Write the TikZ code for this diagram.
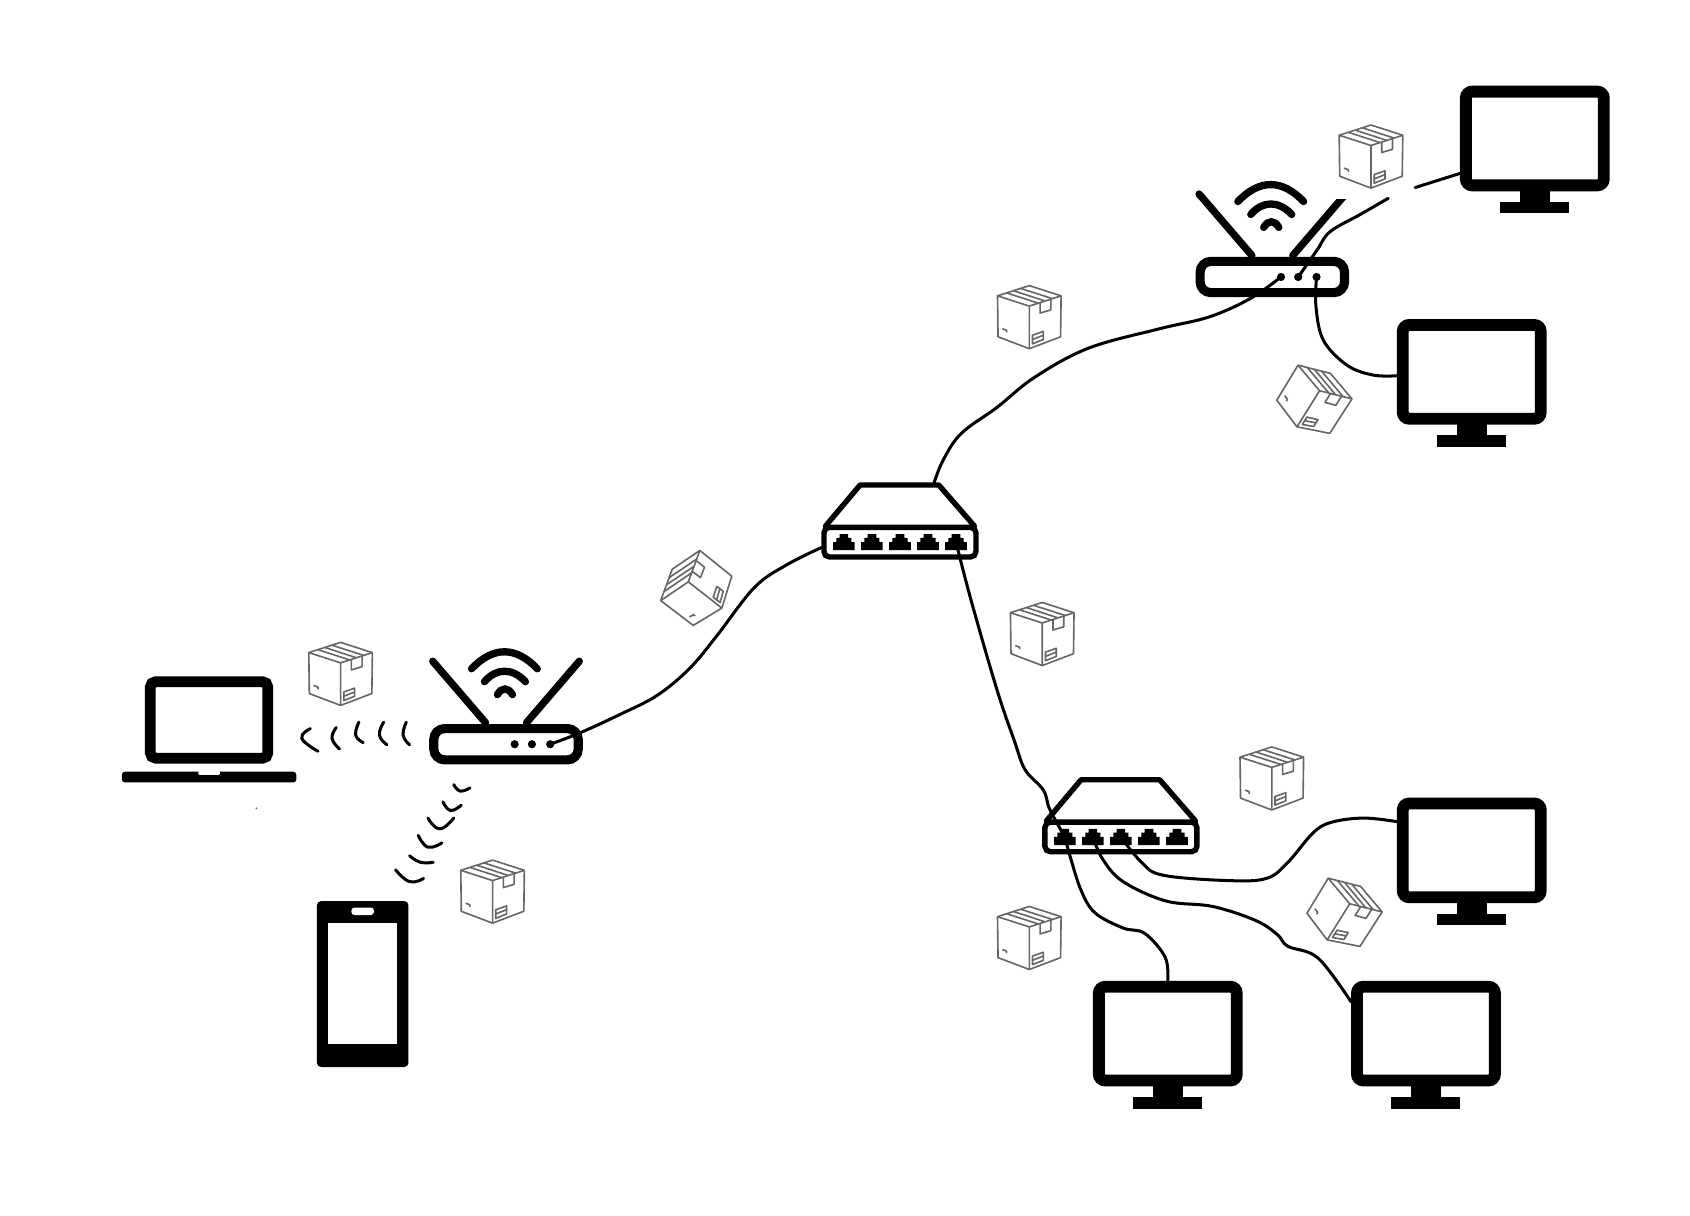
\documentclass[tikz,border=0pt]{standalone}
\usepackage{tikz}

\begin{document}
\begin{tikzpicture}[
    x=0.1mm, y=-0.1mm,
    screen/.style={rectangle, draw, line width=1.1mm, rounded corners=0.6mm, minimum width=12.8mm, minimum height=8.7mm, inner sep=0},
    lid/.style={rectangle, draw, line width=1mm, rounded corners=0.5mm, minimum width=10.9mm, minimum height=7.1mm, inner sep=0},
    radiobody/.style={rectangle, draw, line width=0.85mm, rounded corners=1mm, minimum width=13.4mm, minimum height=2.9mm, inner sep=0},
    hubbody/.style={rectangle, draw, line width=0.5mm, rounded corners=0.5mm, minimum width=14.1mm, minimum height=2.75mm, inner sep=0},
    handset/.style={rectangle, fill=black, rounded corners=0.4mm, minimum width=8.5mm, minimum height=15.4mm, inner sep=0},
    cable/.style={line width=0.28mm, smooth, tension=0.6, line cap=round},
    wave/.style={line width=0.28mm, smooth, tension=0.8, line cap=round},
    parcel/.style={draw=black!60, line width=0.15mm, line join=round},
    mast/.style={line width=0.68mm, line cap=round},
    monitor/.pic={
        \node [screen] (-screen) {};
        \fill (-14,48) rectangle (14,60);
        \fill (-32,59) rectangle (32,69.5);
    },
    router/.pic={
        \node [radiobody] (-body) {};
        \draw [mast] (-19,-20) -- (-68,-77) (19,-20) -- (68,-77);
        \draw [mast] (-32,-70) .. controls (-12,-91) and (9,-91) .. (29,-70);
        \draw [mast] (-20,-58) .. controls (-9,-71) and (6,-71) .. (18,-58);
        \draw [mast] (-8,-46) .. controls (-4,-53) and (2,-53) .. (6,-46);
        \foreach \i/\x in {1/8,2/24,3/41} {
            \coordinate (-port\i) at (\x,0);
            \fill (-port\i) circle (3.8);
        }
    },
    hub/.pic={
        \node [hubbody] (-body) {};
        \draw [line width=0.5mm, line join=round, line cap=round] (-69,-15) -- (-37,-53) -- (36,-53) -- (69,-15);
        \foreach \i/\x in {1/-52,2/-26,3/0,4/26,5/52} {
            \coordinate (-port\i) at (\x,0);
            \fill [shift={(\x,0)}] (-10,7.5) -- (-10,0) -- (-7,0) -- (-7,-4) -- (-4,-4) -- (-4,-7.5) -- (4,-7.5) -- (4,-4) -- (7,-4) -- (7,0) -- (10,0) -- (10,7.5) -- cycle;
        }
    },
    packet/.pic={
        \draw [parcel] (0,-29) -- (29.5,-19.5) -- (29,18.5) -- (0,29.5) -- (-29,18.5) -- (-29.5,-19.5) -- cycle;
        \draw [parcel] (-29.5,-19.5) -- (0,-10) -- (29.5,-19.5) (0,-10) -- (0,29.5);
        \draw [parcel] (-21,-22.2) -- (8.5,-12.7) (-14.7,-24.3) -- (14.7,-14.7) (-8,-26.4) -- (21.5,-16.9);
        \draw [parcel] (10,-13.2) -- (10,-3.5) -- (20,-6.5) -- (20,-16.4);
        \draw [parcel] (3,17) -- (13,13.5) -- (13,21) -- (3,25) -- cycle (3,21) -- (13,17);
        \draw [parcel] (-25,11) -- (-21,12.5) -- (-21,14.5);
    }
]
\useasboundingbox (0,0) rectangle (1568,1128);

\pic (pcTop) at (1424,128.5) {monitor};
\pic (pcMid) at (1365.5,345) {monitor};
\pic (pcRight) at (1365.5,789) {monitor};
\pic (pcLow) at (1083.5,959) {monitor};
\pic (pcEnd) at (1323,959) {monitor};
\pic (wifiHome) at (469.5,690.5) {router};
\pic (wifiOffice) at (1180.5,257) {router};
\fill [white] (1236,174) rectangle (1260,185);
\pic (hubCore) at (835,503) {hub};
\pic (hubLab) at (1040,776.5) {hub};

\node [lid] (laptop) at (194,668) {};
\node [rectangle, fill=black, rounded corners=0.3mm, minimum width=16.2mm, minimum height=1mm, inner sep=0] (laptopbase) at (194,721) {};
\fill [white, rounded corners=0.1mm] (184,715) -- (184,719) -- (204,719) -- (204,715) -- cycle;

\node [handset] (phone) at (336.5,913) {};
\node [rectangle, fill=white, minimum width=6.4mm, minimum height=11.3mm, inner sep=0] (phonescreen) at (336,912.5) {};
\node [rectangle, fill=white, rounded corners=0.3mm, minimum width=2.1mm, minimum height=0.7mm, inner sep=0] (phonespeaker) at (336.5,845.5) {};

\pic at (316,625) {packet};
\pic at (457,827) {packet};
\pic at (955,294) {packet};
\pic at (967,588) {packet};
\pic at (1180,722) {packet};
\pic at (955,870) {packet};
\pic at (1272,145) {packet};
\pic [rotate=52] at (646.5,546) {packet};
\pic [rotate=-32] at (1219,371) {packet};
\pic [rotate=-32] at (1247,847) {packet};

\coordinate (gapA) at (1288,184);
\coordinate (gapB) at (1313,174);

\draw [cable] plot coordinates {(wifiHome-port3) (538,680) (575,663) (610,645) (640,620) (665,590) (700,545) (730,524) (hubCore-body.184)};
\draw [cable] plot coordinates {(hubCore-port5) (901,557) (925,640) (941,687) (951,714) (968,733) (974,751) (hubLab-port1)};
\draw [cable] plot coordinates {(866,450) (875,427) (892,402) (925,378) (960,350) (1010,323) (1076,305) (1122,294) (1160,277) (wifiOffice-port1)};
\draw [cable] plot coordinates {(wifiOffice-port2) (1222,232) (1234,215) (1262,199) (gapA)};
\draw [cable] plot coordinates {(gapB) (pcTop-screen.205)};
\draw [cable] plot coordinates {(wifiOffice-port3) (1221,285) (1228,316) (1250,339) (1274,348) (pcMid-screen.183)};
\draw [cable] plot coordinates {(hubLab-port1) (993,795) (1003,826) (1016,847) (1042,861) (1062,866) (1081,888) (pcLow-screen.north)};
\draw [cable] plot coordinates {(hubLab-port2) (1023,797) (1042,818) (1082,836) (1125,841) (1165,854) (1185,867) (1195,878) (1223,889) (pcEnd-screen.157)};
\draw [cable] plot coordinates {(hubLab-port3) (1059,800) (1079,812) (1139,817) (1175,815) (1195,800) (1218,773) (1235,763) (1265,759) (pcRight-screen.159)};

\foreach \ax/\ay/\bx/\by/\cx/\cy in {288/676/280/685/295/697, 312/675/308/685/315/695, 333/670/330/682/337/689, 356/670/352/682/359/691, 377/670/374/682/380/691, 421/728/427/734/436/731, 411/744/418/752/428/747, 397/759/408/769/421/759, 388/775/397/786/410/782, 380/794/390/800/402/800, 367/807/380/818/393/815} {
    \draw [wave] plot coordinates {(\ax,\ay) (\bx,\by) (\cx,\cy)};
}
\fill [black!60] (238,750) circle (1);
\end{tikzpicture}
\end{document}
